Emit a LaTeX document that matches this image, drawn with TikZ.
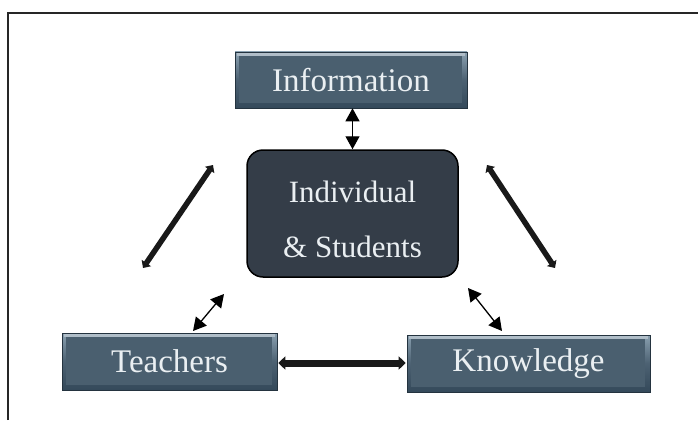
\documentclass[tikz,border=0pt]{standalone}
\usepackage{fontspec}
\setmainfont{Liberation Serif}
\usetikzlibrary{arrows.meta,positioning}
\definecolor{boxtop}{HTML}{8AA0B0}
\definecolor{boxmid}{HTML}{4C6172}
\definecolor{boxbot}{HTML}{34495A}
\definecolor{boxin}{HTML}{4A5F6F}
\definecolor{centerfill}{HTML}{343D48}
\definecolor{txt}{HTML}{EAEFF2}
\tikzset{
  bevel/.style={rectangle, inner sep=0pt, top color=boxtop, bottom color=boxbot, middle color=boxmid,
    draw=boxbot!70!black, line width=0.6pt, text=txt,
    font=\fontsize{33}{38}\selectfont},
  centerbox/.style={rectangle, rounded corners=16pt, fill=centerfill, draw=black, line width=1.5pt,
    text=txt, align=center, font=\fontsize{31}{55}\selectfont, minimum width=211pt, minimum height=127pt},
  thin/.style={line width=1.3pt, {Triangle[length=13pt,width=14pt]}-{Triangle[length=13pt,width=14pt]}},
  thick/.style={line width=5.5pt, draw=black!90, {Triangle[length=6pt,width=11pt]}-{Triangle[length=6pt,width=11pt]}},
  frameline/.style={line width=1.6pt, draw=black!85}
}
\newcommand{\bevelbox}[5]{%
  % #1 name, #2 x, #3 y, #4 width, #5 height
  \node[bevel, minimum width=#4pt, minimum height=#5pt] (#1box) at (#2,#3) {};
  \fill[boxin] ([xshift=4pt,yshift=-4pt]#1box.north west) rectangle ([xshift=-5pt,yshift=5pt]#1box.south east);
  \fill[white, opacity=0.35] ([xshift=2pt,yshift=-1pt]#1box.north west) rectangle ([xshift=-2pt,yshift=-4pt]#1box.north east);
}
\begin{document}
\begin{tikzpicture}[x=1pt,y=-1pt]
\useasboundingbox (0,0) rectangle (698,420);
\fill[white] (0,0) rectangle (698,420);
\draw[frameline] (8,420) -- (8,13) -- (698,13);

\bevelbox{info}{351}{80}{232}{56}
\node[text=txt, font=\fontsize{33}{38}\selectfont] (info) at (351,80) {Information};

\bevelbox{teach}{169.5}{361.5}{215}{57}
\node[text=txt, font=\fontsize{33}{38}\selectfont] (teach) at (169.5,361.5) {Teachers};

\bevelbox{know}{528.5}{363.5}{243}{57}
\node[text=txt, font=\fontsize{33}{38}\selectfont] (know) at (528.5,363.5) {Knowledge};

\node[centerbox] (center) at (352.5,213.5) {};
\node[text=txt, font=\fontsize{31}{37}\selectfont] (l1) at (352.5,192) {Individual};
\node[text=txt, font=\fontsize{31}{37}\selectfont] (l2) at (352.5,247) {\&\ Students};

\draw[thin] (infobox.south -| center.north) -- (center.north);

\coordinate (ld1) at (213,165);
\coordinate (ld2) at (143,268);
\draw[thick] (ld1) -- (ld2);

\coordinate (rd1) at (487,165);
\coordinate (rd2) at (555,268);
\draw[thick] (rd1) -- (rd2);

\coordinate (tc1) at (224,294);
\coordinate (tc2) at (193,331);
\draw[thin] (tc1) -- (tc2);

\coordinate (kc1) at (468,288);
\coordinate (kc2) at (502,331);
\draw[thin] (kc1) -- (kc2);

\draw[thick, line width=7pt, {Triangle[length=7pt,width=13pt]}-{Triangle[length=7pt,width=13pt]}]
  ([xshift=1pt,yshift=0pt]teachbox.east |- 0,363) -- ([xshift=-1pt]knowbox.west |- 0,363);
\end{tikzpicture}
\end{document}
